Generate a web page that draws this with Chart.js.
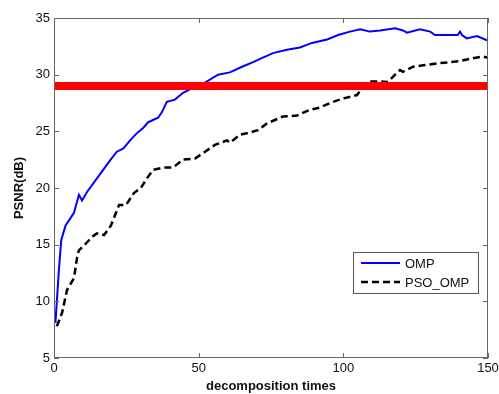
<!DOCTYPE html>
<html>
<head>
<meta charset="utf-8">
<script src="https://cdn.jsdelivr.net/npm/chart.js@4.4.1/dist/chart.umd.min.js"></script>
<style>
    html, body { margin: 0; padding: 0; background: #fff; }
    #wrap { width: 499px; height: 394px; }
</style>
</head>
<body>
<div id="wrap"><canvas id="psnr-chart" width="499" height="394"></canvas></div>
<script>
const ompX = [0.5, 1.7, 2.5, 4, 6.9, 8.6, 9.7, 11.4, 14.4, 17, 19, 21.7, 24, 26.3, 28.5, 30.8, 32.5, 34.2, 36, 37.3, 39, 41.8, 44.6, 47.7, 52.2, 56.7, 60.8, 65, 68.8, 72.2, 75.7, 80.5, 85, 89.2, 94.4, 98.2, 102.3, 105.8, 109.2, 112.7, 117.9, 120.6, 122, 126.5, 130, 131.7, 136.9, 139.5, 140.3, 141, 142.7, 146.2, 149, 150];
const ompY = [8.1, 12.8, 15.4, 16.7, 17.8, 19.4, 18.9, 19.65, 20.7, 21.6, 22.3, 23.2, 23.5, 24.2, 24.8, 25.3, 25.8, 26.0, 26.2, 26.7, 27.6, 27.8, 28.4, 28.8, 29.3, 30.0, 30.2, 30.7, 31.1, 31.5, 31.9, 32.2, 32.4, 32.8, 33.1, 33.5, 33.8, 34.0, 33.8, 33.9, 34.1, 33.9, 33.7, 34.0, 33.8, 33.5, 33.5, 33.5, 33.8, 33.5, 33.2, 33.4, 33.1, 33.0];

const psoX = [1, 2.8, 4.5, 6.9, 8, 8.6, 11, 13.2, 14.9, 17.3, 19.7, 22.5, 24.9, 27.6, 30, 32, 34.2, 37.7, 41.1, 44.6, 48.7, 52.2, 55.6, 59.8, 60.8, 64.3, 67.7, 70.5, 73.6, 79.1, 84, 88.5, 91.9, 95.4, 99.9, 104.7, 106.5, 109.2, 112.7, 115.4, 117.9, 119.6, 120.6, 124.1, 128.2, 132.4, 136.9, 140.3, 143.8, 148.3, 150];
const psoY = [7.8, 9.0, 11.0, 12.05, 13.9, 14.5, 15.1, 15.7, 16.0, 15.85, 16.7, 18.5, 18.5, 19.55, 20.0, 20.8, 21.6, 21.8, 21.8, 22.5, 22.6, 23.2, 23.8, 24.2, 24.0, 24.7, 24.9, 25.1, 25.7, 26.3, 26.4, 26.9, 27.1, 27.5, 27.9, 28.2, 28.8, 29.4, 29.4, 29.35, 30.0, 30.4, 30.25, 30.7, 30.85, 31.0, 31.1, 31.2, 31.4, 31.6, 31.5];

const thresholdX = [0, 150];
const thresholdY = [29, 29];

const seriesNames = ['OMP', 'PSO_OMP'];
const xTicks = [0, 50, 100, 150];
const yTicks = [5, 10, 15, 20, 25, 30, 35];

function toPoints(xs, ys) {
    return xs.map((x, i) => ({ x: x, y: ys[i] }));
}

// Рамка, внутренние засечки и легенда в стиле MATLAB
const matlabFrame = {
    id: 'matlabFrame',
    afterDatasetsDraw(chart) {
        const ctx = chart.ctx;
        const a = chart.chartArea;
        const xs = chart.scales.x;
        const ys = chart.scales.y;
        const len = 5;

        ctx.save();
        ctx.strokeStyle = '#666';
        ctx.lineWidth = 1;
        ctx.strokeRect(a.left + 0.5, a.top + 0.5, a.right - a.left - 1, a.bottom - a.top - 1);

        ctx.beginPath();
        xTicks.forEach(v => {
            const px = Math.round(xs.getPixelForValue(v)) + 0.5;
            ctx.moveTo(px, a.bottom);
            ctx.lineTo(px, a.bottom - len);
            ctx.moveTo(px, a.top);
            ctx.lineTo(px, a.top + len);
        });
        yTicks.forEach(v => {
            const py = Math.round(ys.getPixelForValue(v)) + 0.5;
            ctx.moveTo(a.left, py);
            ctx.lineTo(a.left + len, py);
            ctx.moveTo(a.right, py);
            ctx.lineTo(a.right - len, py);
        });
        ctx.stroke();

        // Легенда
        const bx = 353, by = 252, bw = 125, bh = 41;
        ctx.fillStyle = '#fff';
        ctx.fillRect(bx, by, bw, bh);
        ctx.strokeStyle = '#555';
        ctx.strokeRect(bx + 0.5, by + 0.5, bw, bh);

        ctx.font = '13px "Liberation Sans", Arial, sans-serif';
        ctx.textBaseline = 'middle';
        seriesNames.forEach((name, i) => {
            const ds = chart.data.datasets[i + 1];
            const ly = by + 11 + i * 19;
            ctx.beginPath();
            ctx.strokeStyle = ds.borderColor;
            ctx.lineWidth = ds.borderWidth;
            ctx.setLineDash(ds.borderDash || []);
            ctx.moveTo(bx + 8, ly);
            ctx.lineTo(bx + 47, ly);
            ctx.stroke();
            ctx.setLineDash([]);
            ctx.fillStyle = '#111';
            ctx.fillText(name, bx + 52, ly + 1);
        });
        ctx.restore();
    }
};

const chartCanvas = document.getElementById('psnr-chart');

new Chart(chartCanvas, {
    type: 'line',
    data: {
        datasets: [
            {
                label: 'threshold',
                data: toPoints(thresholdX, thresholdY),
                borderColor: '#ff0000',
                borderWidth: 8,
                pointRadius: 0,
                order: 0
            },
            {
                label: seriesNames[0],
                data: toPoints(ompX, ompY),
                borderColor: '#0000ff',
                borderWidth: 2,
                pointRadius: 0,
                tension: 0,
                order: 1
            },
            {
                label: seriesNames[1],
                data: toPoints(psoX, psoY),
                borderColor: '#000000',
                borderWidth: 2.5,
                borderDash: [7, 4],
                pointRadius: 0,
                tension: 0,
                order: 2
            }
        ]
    },
    options: {
        responsive: false,
        animation: false,
        layout: {
            padding: { top: 18, right: 0, left: 0, bottom: 0 }
        },
        plugins: {
            legend: { display: false },
            tooltip: { enabled: false }
        },
        scales: {
            x: {
                type: 'linear',
                min: 0,
                max: 150,
                afterFit: scale => {
                    scale.height = 36;
                    scale.paddingRight = 11;
                    scale.paddingLeft = 0;
                },
                afterBuildTicks: scale => { scale.ticks = xTicks.map(v => ({ value: v })); },
                grid: { display: false, drawTicks: false },
                border: { display: false },
                ticks: {
                    padding: 3,
                    color: '#111',
                    font: { family: '"Liberation Sans", Arial, sans-serif', size: 13 }
                },
                title: {
                    display: true,
                    text: 'decomposition times',
                    color: '#111',
                    padding: { top: 0, bottom: 0 },
                    font: { family: '"Liberation Sans", Arial, sans-serif', size: 13, weight: 'bold' }
                }
            },
            y: {
                type: 'linear',
                min: 5,
                max: 35,
                afterFit: scale => { scale.width = 54; },
                afterBuildTicks: scale => { scale.ticks = yTicks.map(v => ({ value: v })); },
                grid: { display: false, drawTicks: false },
                border: { display: false },
                ticks: {
                    padding: 4,
                    color: '#111',
                    font: { family: '"Liberation Sans", Arial, sans-serif', size: 13 }
                },
                title: {
                    display: true,
                    text: 'PSNR(dB)',
                    color: '#111',
                    padding: { top: 12, bottom: 0 },
                    font: { family: '"Liberation Sans", Arial, sans-serif', size: 13, weight: 'bold' }
                }
            }
        }
    },
    plugins: [matlabFrame]
});
</script>
</body>
</html>
